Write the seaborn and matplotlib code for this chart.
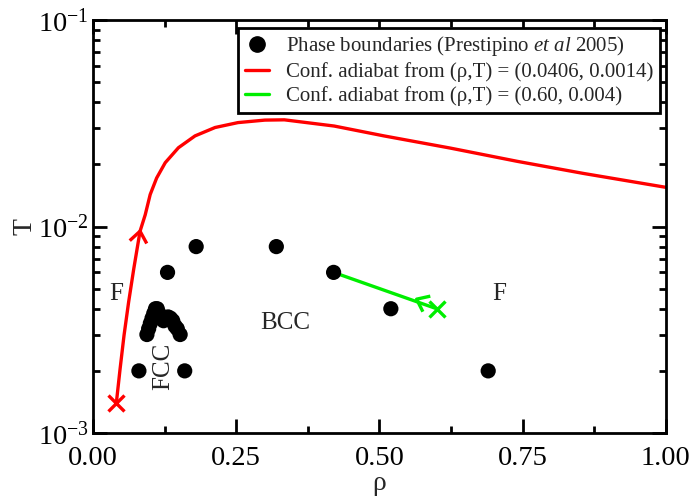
import matplotlib
matplotlib.use("Agg")
import matplotlib.pyplot as plt
import matplotlib.ticker as mticker
from matplotlib.lines import Line2D
import numpy as np
import pandas as pd
import seaborn as sns

# Phase boundary points (density, temperature)
rho_pts = [0.08, 0.16, 0.13, 0.18, 0.32, 0.42, 0.52, 0.69,
           0.094, 0.097, 0.100, 0.103, 0.106, 0.109, 0.112, 0.115, 0.119,
           0.123, 0.127, 0.131, 0.135, 0.139, 0.143, 0.147, 0.152]
T_pts = [0.002, 0.002, 0.006, 0.008, 0.008, 0.006, 0.004, 0.002,
         0.0030, 0.0032, 0.0034, 0.0036, 0.0038, 0.0040, 0.0040, 0.0038, 0.0036,
         0.0035, 0.0036, 0.00365, 0.0036, 0.0035, 0.0033, 0.0032, 0.0030]

# Configurational adiabat starting at (0.0406, 0.0014)
rho_red = [0.0406, 0.047, 0.054, 0.062, 0.071, 0.082, 0.091, 0.0997, 0.111, 0.126,
           0.149, 0.178, 0.213, 0.253, 0.300, 0.334, 0.421, 0.508, 0.624, 0.741,
           0.856, 1.0]
T_red = [0.0014, 0.00203, 0.00297, 0.0043, 0.00624, 0.0095, 0.0114, 0.0143, 0.0172, 0.0204,
         0.0241, 0.0275, 0.0302, 0.0319, 0.0328, 0.0329, 0.0307, 0.0275, 0.0240, 0.0207,
         0.0181, 0.0155]

# Configurational adiabat starting at (0.60, 0.004)
rho_green = [0.60, 0.42]
T_green = [0.004, 0.006]

RED = "#ff0000"
GREEN = "#00ee00"

sns.set_style("ticks")
plt.rcParams.update({
    "font.family": ["Liberation Serif", "DejaVu Serif"],
    "mathtext.fontset": "custom",
    "mathtext.rm": "Liberation Serif",
    "mathtext.it": "Liberation Serif:italic",
    "axes.linewidth": 2.0,
    "axes.edgecolor": "black",
    "xtick.color": "black",
    "ytick.color": "black",
    "xtick.direction": "in",
    "ytick.direction": "in",
})

fig = plt.figure(figsize=(7.0, 4.98), dpi=100)
ax = fig.add_axes([0.133, 0.1305, 0.818, 0.829])

df_pts = pd.DataFrame({"rho": rho_pts, "T": T_pts})
df_red = pd.DataFrame({"rho": rho_red, "T": T_red})
df_green = pd.DataFrame({"rho": rho_green, "T": T_green})

sns.lineplot(data=df_red, x="rho", y="T", sort=False, color=RED, lw=2.4, ax=ax)
sns.lineplot(data=df_green, x="rho", y="T", sort=False, color=GREEN, lw=2.4, ax=ax)
sns.scatterplot(data=df_pts, x="rho", y="T", color="black", s=120, edgecolor="none",
                ax=ax, zorder=3)

ax.set_yscale("log")
ax.set_xlim(0.0, 1.0)
ax.set_ylim(1e-3, 1e-1)

# Start markers
ax.plot(rho_red[0], T_red[0], marker="x", ms=11, mew=2.4, color=RED, ls="none")
ax.plot(rho_green[0], T_green[0], marker="x", ms=11, mew=2.4, color=GREEN, ls="none")

# Direction chevrons along each adiabat (built in display space)
def chevron(ax, x0, y0, x1, y1, color, size=14, spread=38):
    p0 = ax.transData.transform((x0, y0))
    p1 = ax.transData.transform((x1, y1))
    d = p1 - p0
    ang = np.arctan2(d[1], d[0])
    arms = []
    for s in (+1, -1):
        a = ang + np.pi + s * np.deg2rad(spread)
        arms.append(p1 + size * np.array([np.cos(a), np.sin(a)]))
    path = ax.transData.inverted().transform(np.array([arms[0], p1, arms[1]]))
    ax.plot(path[:, 0], path[:, 1], color=color, lw=2.4, solid_capstyle="butt")

chevron(ax, rho_red[4], T_red[4], rho_red[5], T_red[5], RED)
chevron(ax, 0.60, 0.004, 0.565, 0.00445, GREEN)

# Phase region labels
ax.text(0.04, 0.0047, "F", fontsize=18, ha="center", va="center")
ax.text(0.71, 0.0047, "F", fontsize=18, ha="center", va="center")
ax.text(0.336, 0.0034, "BCC", fontsize=18, ha="center", va="center")
ax.text(0.122, 0.0021, "FCC", fontsize=18, ha="center", va="center", rotation=90)

ax.xaxis.set_major_locator(mticker.MultipleLocator(0.25))
ax.xaxis.set_minor_locator(mticker.MultipleLocator(0.125))
ax.xaxis.set_major_formatter(mticker.FormatStrFormatter("%.2f"))
ax.yaxis.set_minor_locator(mticker.LogLocator(base=10, subs=np.arange(2, 10)))
ax.yaxis.set_minor_formatter(mticker.NullFormatter())
ax.tick_params(which="both", top=True, right=True, direction="in", width=2.0)
ax.tick_params(which="major", length=10, labelsize=20.5)
ax.tick_params(axis="x", which="major", pad=9)
ax.tick_params(axis="y", which="major", pad=3)
ax.tick_params(which="minor", length=5)
sns.despine(ax=ax, top=False, right=False)

ax.set_xlabel("ρ", fontsize=20, labelpad=0)
ax.set_ylabel("T", fontsize=20, labelpad=0)

handles = [
    Line2D([], [], marker="o", ms=11, color="black", ls="none"),
    Line2D([], [], color=RED, lw=2.4),
    Line2D([], [], color=GREEN, lw=2.4),
]
labels = [
    r"Phase boundaries (Prestipino $\it{et\ al}$ 2005)",
    r"Conf. adiabat from (ρ,T) = (0.0406, 0.0014)",
    r"Conf. adiabat from (ρ,T) = (0.60, 0.004)",
]
leg = ax.legend(handles, labels, loc="upper right", bbox_to_anchor=(0.99, 0.981),
                fontsize=15, frameon=True, fancybox=False, handlelength=1.15,
                handletextpad=0.85, labelspacing=0.2, borderpad=0.3,
                borderaxespad=0.0)
leg.get_frame().set_edgecolor("black")
leg.get_frame().set_linewidth(2.0)
leg.get_frame().set_alpha(1.0)

fig.savefig("out.png", dpi=100)
